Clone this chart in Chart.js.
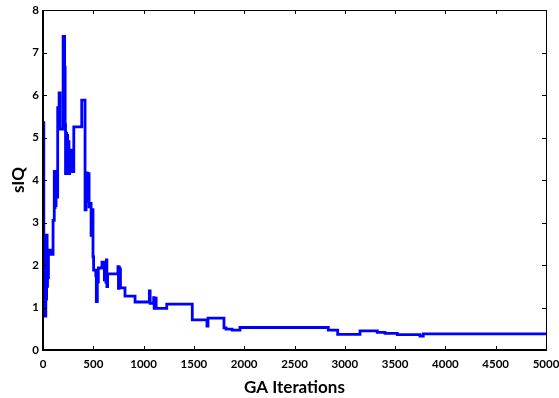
<!DOCTYPE html>
<html>
<head>
<meta charset="utf-8">
<script src="https://cdn.jsdelivr.net/npm/chart.js@4"></script>
<style>
  html, body { margin: 0; padding: 0; background: #fff; }
</style>
</head>
<body>
<canvas id="chart" width="559" height="398"></canvas>
<script>
// step points: iteration where a new best sIQ value starts
const iterations = [0, 8, 14, 19, 23, 28, 32, 36, 41, 45, 50, 54, 82, 100, 112, 116, 120, 124, 130, 140,
    146, 155, 160, 170, 200, 215, 220, 224, 230, 235, 240, 245, 252, 258, 265, 272, 278, 285, 292, 300,
    306, 385, 418, 428, 440, 450, 458, 470, 478, 490, 497, 503, 525, 530, 540, 550, 586, 610, 618, 625,
    630, 635, 642, 745, 750, 755, 760, 765, 770, 815, 915, 1057, 1065, 1100, 1105, 1120, 1125, 1230, 1484, 1630,
    1640, 1799, 1819, 1880, 1958, 2836, 2929, 3151, 3323, 3400, 3522, 3747, 3780, 5000];
const siq = [5.35, 0.9, 2.7, 1.4, 0.8, 2.2, 1.2, 2.7, 1.5, 2.0, 1.7, 2.35, 2.25, 3.05, 4.2, 3.35, 4.2, 3.4, 4.1, 3.6,
    5.7, 5.3, 6.05, 5.2, 7.38, 6.65, 5.3, 4.15, 5.1, 4.2, 5.05, 4.15, 4.9, 4.15, 4.7, 4.2, 4.65, 4.2, 4.7, 4.2,
    5.25, 5.88, 3.3, 4.17, 3.5, 4.15, 3.37, 3.45, 2.7, 3.3, 2.19, 1.88, 1.75, 1.14, 1.6, 1.93, 2.07, 1.65, 2.07, 1.6,
    2.12, 1.49, 1.79, 1.96, 1.45, 1.95, 1.5, 1.9, 1.46, 1.27, 1.13, 1.39, 1.1, 1.23, 0.98, 1.22, 0.98, 1.08, 0.71, 0.56,
    0.75, 0.52, 0.49, 0.47, 0.53, 0.47, 0.37, 0.45, 0.415, 0.39, 0.36, 0.33, 0.38, 0.38];

const xTitle = 'GA Iterations';
const yTitle = 'sIQ';

const pointData = iterations.map((x, i) => ({ x: x, y: siq[i] }));

const fontFamily = 'Lato, "Open Sans", sans-serif';

// frame round the plot with small inward ticks on all four sides
const boxTicks = {
    id: 'boxTicks',
    afterDraw(chart) {
        const ctx = chart.ctx;
        const a = chart.chartArea;
        const xs = chart.scales.x;
        const ys = chart.scales.y;
        const len = 4;
        ctx.save();
        ctx.strokeStyle = '#000';
        ctx.lineWidth = 1;
        xs.ticks.forEach(t => {
            const px = Math.round(xs.getPixelForValue(t.value)) + 0.5;
            ctx.beginPath();
            ctx.moveTo(px, a.bottom); ctx.lineTo(px, a.bottom - len);
            ctx.moveTo(px, a.top); ctx.lineTo(px, a.top + len);
            ctx.stroke();
        });
        ys.ticks.forEach(t => {
            const py = Math.round(ys.getPixelForValue(t.value)) + 0.5;
            ctx.beginPath();
            ctx.moveTo(a.left, py); ctx.lineTo(a.left + len, py);
            ctx.moveTo(a.right, py); ctx.lineTo(a.right - len, py);
            ctx.stroke();
        });
        ctx.strokeRect(Math.round(a.left) + 0.5, Math.round(a.top) + 0.5,
            Math.round(a.right - a.left), Math.round(a.bottom - a.top));
        ctx.lineWidth = 2;
        ctx.beginPath();
        ctx.moveTo(a.left, a.top); ctx.lineTo(a.left, a.bottom); ctx.lineTo(a.right, a.bottom);
        ctx.stroke();
        ctx.restore();
    }
};

new Chart(document.getElementById('chart'), {
    type: 'line',
    data: {
        datasets: [{
            data: pointData,
            borderColor: 'rgb(0, 0, 255)',
            borderWidth: 2.8,
            pointRadius: 0,
            stepped: 'before',
            fill: false
        }]
    },
    options: {
        responsive: false,
        animation: false,
        maintainAspectRatio: false,
        layout: { padding: { left: 0, top: 10, right: 13, bottom: 0 } },
        plugins: { legend: { display: false }, tooltip: { enabled: false } },
        scales: {
            x: {
                type: 'linear',
                min: 0,
                max: 5000,
                afterFit: s => { s.height = 48; s.paddingLeft = 0; s.paddingRight = 0; },
                ticks: {
                    stepSize: 500,
                    autoSkip: false,
                    maxRotation: 0,
                    padding: 7,
                    color: '#000',
                    callback: v => String(v),
                    font: { family: fontFamily, size: 11.5, weight: 'bold' }
                },
                grid: { display: false, drawTicks: false },
                border: { display: false },
                title: {
                    display: true,
                    text: xTitle,
                    color: '#000',
                    padding: { top: 6, bottom: 0 },
                    font: { family: fontFamily, size: 17, weight: 'bold' }
                }
            },
            y: {
                min: 0,
                max: 8,
                afterFit: s => { s.width = 43; s.paddingTop = 0; s.paddingBottom = 0; },
                ticks: {
                    stepSize: 1,
                    autoSkip: false,
                    padding: 4,
                    color: '#000',
                    callback: v => String(v),
                    font: { family: fontFamily, size: 11.5, weight: 'bold' }
                },
                grid: { display: false, drawTicks: false },
                border: { display: false },
                title: {
                    display: true,
                    text: yTitle,
                    color: '#000',
                    padding: { top: 8, bottom: 0 },
                    font: { family: fontFamily, size: 17, weight: 'bold' }
                }
            }
        }
    },
    plugins: [boxTicks]
});
</script>
</body>
</html>
